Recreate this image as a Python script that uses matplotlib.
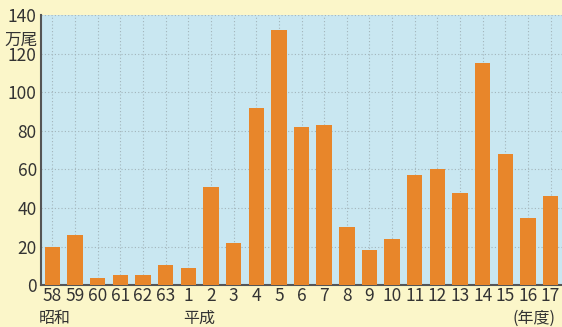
import matplotlib.pyplot as plt

plt.rcParams['font.family'] = ['Noto Sans CJK JP', 'DejaVu Sans']

years = ['58', '59', '60', '61', '62', '63', '1', '2', '3', '4', '5', '6',
         '7', '8', '9', '10', '11', '12', '13', '14', '15', '16', '17']
catch = [20, 26, 3.5, 5, 5.5, 10.5, 9, 51, 22, 92, 132, 82,
         83, 30, 18, 24, 57, 60, 48, 115, 68, 35, 46]
yticks = [0, 20, 40, 60, 80, 100, 120, 140]

fig = plt.figure(figsize=(5.62, 3.27), dpi=100, facecolor='#fbf6c9')
ax = fig.add_axes([0.073, 0.128, 0.927, 0.826])
ax.set_facecolor('#c9e7f1')

x = range(len(years))
ax.bar(x, catch, width=0.68, color='#e8862a', zorder=3)

ax.set_xlim(-0.5, len(years) - 0.5)
ax.set_ylim(0, 140)
ax.set_yticks(yticks)
ax.set_xticks(list(x))
ax.set_xticklabels(years)
ax.tick_params(length=0, labelsize=12.5, colors='#333333', pad=1)
ax.tick_params(axis='y', pad=3)

ax.grid(True, color='#a3b5bb', linestyle=(0, (1, 2)), linewidth=0.8, zorder=1)
for s in ['top', 'right']:
    ax.spines[s].set_visible(False)
ax.spines['left'].set_color('#555555')
ax.spines['bottom'].set_color('#555555')
ax.spines['left'].set_linewidth(1.5)
ax.spines['bottom'].set_linewidth(1.5)

fig.text(0.038, 0.878, '万尾', fontsize=12, color='#333333', ha='center', va='center')
fig.text(0.098, 0.0, '昭和', fontsize=11.5, color='#333333', ha='center', va='bottom')
fig.text(0.355, 0.0, '平成', fontsize=11.5, color='#333333', ha='center', va='bottom')
fig.text(0.950, 0.0, '(年度)', fontsize=11.5, color='#333333', ha='center', va='bottom')

fig.savefig('out.png', dpi=100, facecolor=fig.get_facecolor())
